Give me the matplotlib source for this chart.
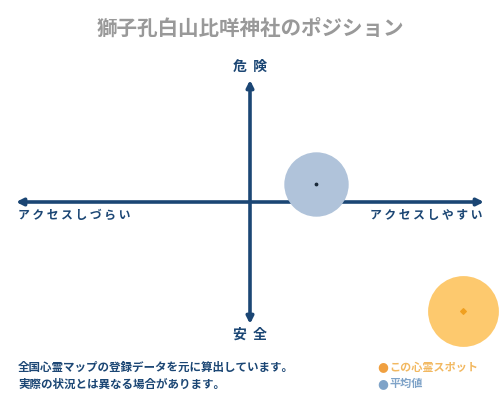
import matplotlib.pyplot as plt

plt.rcParams['font.family'] = ['Noto Sans CJK JP', 'DejaVu Sans']

# chart data (x: access ease, y: danger), range -1..1
title = '獅子孔白山比咩神社のポジション'
spot_xy = (0.28, 0.15)      # 平均値
this_xy = (0.91, -0.89)     # この心霊スポット
top_label = '危険'
bottom_label = '安全'
left_label = 'アクセスしづらい'
right_label = 'アクセスしやすい'
legend_labels = ['この心霊スポット', '平均値']
notes = ['全国心霊マップの登録データを元に算出しています。',
         '実際の状況とは異なる場合があります。']

navy = '#1b4674'
avg_color = '#b0c3da'
spot_color = '#fdc96e'

fig = plt.figure(figsize=(5, 4), dpi=100)
W, H = 500, 400

# main quadrant axes: arrows span x 16..484 px, y 80..324 px
ax = fig.add_axes([16 / W, (H - 324) / H, 468 / W, 244 / H])
ax.set_xlim(-1, 1)
ax.set_ylim(-1, 1)
ax.axis('off')

ax.annotate('', xy=(-1, 0), xytext=(1, 0),
            arrowprops=dict(arrowstyle='<|-|>', color=navy, lw=2.6,
                            mutation_scale=10, shrinkA=0, shrinkB=0))
ax.annotate('', xy=(0, 1), xytext=(0, -1),
            arrowprops=dict(arrowstyle='<|-|>', color=navy, lw=2.6,
                            mutation_scale=10, shrinkA=0, shrinkB=0))

ax.scatter([spot_xy[0]], [spot_xy[1]], s=2150, color=avg_color, zorder=3,
           linewidths=0)
ax.scatter([spot_xy[0]], [spot_xy[1]], s=3, color='#1a2a3a', zorder=4)
ax.scatter([this_xy[0]], [this_xy[1]], s=2600, color=spot_color, zorder=3,
           linewidths=0, clip_on=False)
ax.scatter([this_xy[0]], [this_xy[1]], s=8, marker='D', color='#f0a020',
           zorder=4, clip_on=False)

fig.text(0.5, 1 - 28 / H, title, ha='center', va='center', fontsize=14.8,
         color='#999999', fontweight='bold')
fig.text(0.5, 1 - 67 / H, '  '.join(top_label), ha='center', va='center',
         fontsize=10, color=navy, fontweight='bold')
fig.text(0.5, 1 - 335 / H, '  '.join(bottom_label), ha='center', va='center',
         fontsize=10, color=navy, fontweight='bold')
fig.text(18 / W, 1 - 215 / H, ' '.join(left_label), ha='left', va='center',
         fontsize=8.5, color=navy, fontweight='bold')
fig.text(482 / W, 1 - 215 / H, ' '.join(right_label), ha='right',
         va='center', fontsize=8.5, color=navy, fontweight='bold')

for i, line in enumerate(notes):
    fig.text(18 / W, 1 - (367 + i * 17) / H, line, ha='left', va='center',
             fontsize=8.3, color=navy, fontweight='bold')

legend_colors = ['#f0a040', '#7fa3c8']
legend_text_colors = ['#f2b860', '#7fa3c8']
for i, lab in enumerate(legend_labels):
    y = 1 - (367 + i * 17) / H
    fig.text(377 / W, y, '●', ha='left', va='center', fontsize=9,
             color=legend_colors[i], family='DejaVu Sans')
    fig.text(389 / W, y, lab, ha='left', va='center', fontsize=8,
             color=legend_text_colors[i], fontweight='bold')

fig.savefig('out.png', dpi=100)
